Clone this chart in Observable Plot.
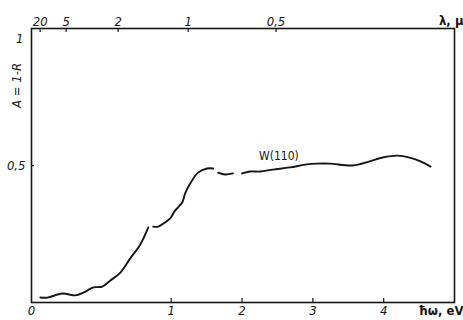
<!DOCTYPE html>
<html><head><meta charset="utf-8">
<script src="https://cdn.jsdelivr.net/npm/d3@7"></script>
<script src="https://cdn.jsdelivr.net/npm/@observablehq/plot@0.6"></script>
<style>
body{margin:0;background:#fff}
#chart svg{font-family:"Liberation Sans Narrow","DejaVu Sans Condensed",sans-serif}
</style>
</head><body><div id="chart"></div>
<script>
// photon energy (eV) and absorptance A = 1 - R for W(110); segment = drawn pieces of the curve
const energy = [0.064,0.114,0.221,0.314,0.371,0.443,0.507,0.564,0.636,0.707,0.779,0.836,
                0.871,0.907,0.943,0.993,1.056,1.155,1.197,1.268,1.380,1.507,1.592,
                1.662,1.761,1.873,
                2.000,2.113,2.254,2.437,2.676,2.915,3.056,3.239,3.563,3.803,3.986,4.197,4.366,4.521,4.662];
const absorptance = [0.018,0.018,0.033,0.026,0.036,0.055,0.058,0.080,0.109,0.161,0.212,0.274,
                0.277,0.277,0.288,0.307,0.336,0.365,0.398,0.434,0.474,0.489,0.489,
                0.474,0.467,0.471,
                0.471,0.478,0.478,0.485,0.493,0.504,0.507,0.507,0.500,0.515,0.529,0.536,0.529,0.515,0.496];
const segment = [1,1,1,1,1,1,1,1,1,1,1,1, 2,2,2,2,2,2,2,2,2,2,2, 3,3,3, 4,4,4,4,4,4,4,4,4,4,4,4,4,4,4];

// bottom axis (eV): 0..1 eV drawn at double scale, above 1 eV compressed
const eMax = 5;
const breakAt = 1;
const compress = 0.507;
const xTicks = [0, 1, 2, 3, 4];
const xTickLabels = ["0", "1", "2", "3", "4"];
// top axis: wavelength in microns
const lambdaTicks = [20, 5, 2, 1, 0.5];
const lambdaLabels = ["20", "5", "2", "1", "0,5"];
// y axis
const yTicks = [0.5];
const yTickLabels = ["0,5"];
const yTopLabel = ["1"];
const curveLabel = [{e: 2.52, a: 0.535, text: "W(110)"}];
const yTitlePos = [0.71];

const warp = e => e <= breakAt ? e : breakAt + (e - breakAt) * compress;
const rows = energy.map((e, i) => ({e, a: absorptance[i], s: segment[i]}));
const ink = "#161616";
const tickFont = {fontSize: 13, fontStyle: "italic", fill: ink};

const chart = Plot.plot({
  width: 463, height: 320,
  marginTop: 28, marginBottom: 18, marginLeft: 31, marginRight: 9,
  x: {domain: [0, warp(eMax)], axis: null},
  y: {domain: [0, 1], axis: null},
  marks: [
    Plot.frame({stroke: ink, strokeWidth: 1.6}),
    Plot.tickX(xTicks.slice(1), {x: d => warp(d), insetTop: 270, stroke: ink, strokeWidth: 1.2}),
    Plot.tickX(lambdaTicks, {x: d => warp(1.24 / d), insetBottom: 270, stroke: ink, strokeWidth: 1.2}),
    Plot.tickY(yTicks, {y: d => d, insetRight: 420, stroke: ink, strokeWidth: 1.2}),
    Plot.line(rows, {x: d => warp(d.e), y: "a", z: "s", curve: "catmull-rom", stroke: ink, strokeWidth: 1.9}),
    Plot.text(xTicks, {x: d => warp(d), text: (d, i) => xTickLabels[i], frameAnchor: "bottom", dy: 12, ...tickFont}),
    Plot.text(["ħω, eV"], {frameAnchor: "bottom-right", dx: 9, dy: 12, textAnchor: "end", fontSize: 13, fontWeight: "bold", fill: ink}),
    Plot.text(lambdaTicks, {x: d => warp(1.24 / d), text: (d, i) => lambdaLabels[i], frameAnchor: "top", dy: -12, ...tickFont}),
    Plot.text(["λ, μ"], {frameAnchor: "top-right", dx: 9, dy: -13, textAnchor: "end", fontSize: 13, fontWeight: "bold", fill: ink}),
    Plot.text(yTicks, {y: d => d, text: (d, i) => yTickLabels[i], frameAnchor: "left", dx: -6, textAnchor: "end", ...tickFont}),
    Plot.text(yTopLabel, {frameAnchor: "top-left", dx: -8, dy: 5, text: d => d, textAnchor: "end", ...tickFont}),
    Plot.text(yTitlePos, {y: d => d, frameAnchor: "left", dx: -15, rotate: -90, text: () => "A = 1-R", ...tickFont}),
    Plot.text(curveLabel, {x: d => warp(d.e), y: "a", text: "text", fontSize: 12, fill: ink})
  ]
});
document.getElementById("chart").appendChild(chart);
</script>
</body></html>
